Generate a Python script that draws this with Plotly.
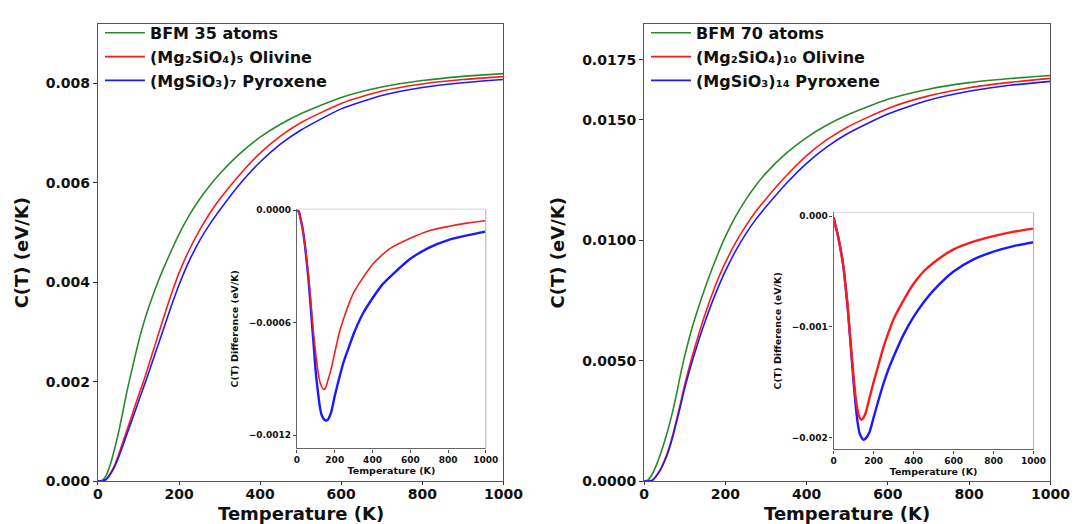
import plotly.graph_objects as go

# ---------------- data ----------------
T = [0, 10, 20, 30, 40, 50, 60, 70, 80, 90, 100, 110, 120, 130, 140, 150, 160,
     180, 200, 225, 250, 275, 300, 350, 400, 450, 500, 600, 700, 800, 900, 1000]

# Left panel: 35 atoms
bfm35 = [0, 0.00001, 0.00011, 0.00032, 0.00062, 0.00095, 0.00134, 0.00175, 0.00211,
         0.00246, 0.00280, 0.00310, 0.00337, 0.00361, 0.00384, 0.00405, 0.00425,
         0.00462, 0.00497, 0.005345, 0.005665, 0.00594, 0.00618, 0.00659, 0.00692,
         0.00718, 0.00739, 0.00772, 0.00793, 0.00806, 0.008145, 0.00820]
olivine5 = [0, 0, 0.00004, 0.00015, 0.00030, 0.00051, 0.00075, 0.00099, 0.00123,
            0.00148, 0.00172, 0.00195, 0.00220, 0.00246, 0.00272, 0.00298, 0.00324,
            0.00374, 0.00419, 0.00465, 0.00504, 0.00538, 0.00567, 0.00617, 0.00660,
            0.00694, 0.00721, 0.00760, 0.00785, 0.007992, 0.00808, 0.008139]
pyroxene7 = [0, 0, 0.00003, 0.00013, 0.00027, 0.00046, 0.00068, 0.00091, 0.00114,
             0.00137, 0.00160, 0.00183, 0.00206, 0.00230, 0.00254, 0.00278, 0.00302,
             0.00350, 0.00395, 0.00443, 0.00483, 0.00516, 0.00545, 0.00598, 0.00642,
             0.00678, 0.00706, 0.00749, 0.00776, 0.00792, 0.008015, 0.00808]
diff_ol5 = [0, -0.00001, -0.00005, -0.00010, -0.00017, -0.00025, -0.00034, -0.00045,
            -0.00057, -0.00068, -0.00077, -0.00085, -0.00091, -0.00094, -0.000955,
            -0.00095, -0.00092, -0.00085, -0.00076, -0.00065, -0.00057, -0.00050,
            -0.00044, -0.00036, -0.00029, -0.00024, -0.00020, -0.00015, -0.00011,
            -0.000088, -0.00007, -0.000056]
diff_py7 = [0, -0.00001, -0.00005, -0.00010, -0.00017, -0.00026, -0.00036, -0.00048,
            -0.00061, -0.00074, -0.00087, -0.00096, -0.00104, -0.00109, -0.00111,
            -0.00112, -0.00112, -0.00108, -0.00099, -0.00089, -0.00080, -0.00073,
            -0.00066, -0.00055, -0.00047, -0.00040, -0.00035, -0.00026, -0.00020,
            -0.00016, -0.000135, -0.000115]

# Right panel: 70 atoms
bfm70 = [0, 0.00005, 0.00028, 0.00065, 0.00110, 0.00162, 0.00220, 0.00286, 0.00362,
         0.00445, 0.00520, 0.00586, 0.00647, 0.00701, 0.00753, 0.00802, 0.00849,
         0.00936, 0.01015, 0.01098, 0.01168, 0.01228, 0.01279, 0.01362, 0.01427,
         0.01479, 0.01521, 0.01586, 0.01628, 0.01655, 0.01672, 0.01685]
olivine10 = [0, 0, 0.00003, 0.00022, 0.00048, 0.00085, 0.00130, 0.00188, 0.00255,
             0.00326, 0.00400, 0.00466, 0.00527, 0.00584, 0.00640, 0.00692, 0.00741,
             0.00831, 0.00907, 0.00989, 0.01059, 0.01120, 0.01172, 0.01268, 0.01352,
             0.01418, 0.01470, 0.01548, 0.01600, 0.01634, 0.01656, 0.016728]
pyroxene14 = [0, 0, 0.00002, 0.00020, 0.00045, 0.00080, 0.00124, 0.00180, 0.00245,
              0.00314, 0.00385, 0.00448, 0.00506, 0.00560, 0.00613, 0.00662, 0.00709,
              0.00795, 0.00872, 0.00955, 0.01026, 0.01087, 0.01139, 0.01236, 0.01320,
              0.01388, 0.01443, 0.01525, 0.01582, 0.01619, 0.01644, 0.016605]
diff_ol10 = [-0.00001, -0.00009, -0.00016, -0.00025, -0.00035, -0.00046, -0.00063,
             -0.00080, -0.00102, -0.00124, -0.00145, -0.00163, -0.00175, -0.00182,
             -0.00184, -0.00182, -0.00178, -0.00164, -0.00150, -0.00134, -0.00118,
             -0.00105, -0.00093, -0.00076, -0.00061, -0.00050, -0.00042, -0.00030,
             -0.00023, -0.00018, -0.00014, -0.000112]
diff_py14 = [-0.00001, -0.00009, -0.00016, -0.00025, -0.00035, -0.00047, -0.00064,
             -0.00082, -0.00104, -0.00127, -0.00150, -0.00170, -0.00186, -0.00196,
             -0.00200, -0.00202, -0.00201, -0.00195, -0.00182, -0.00166, -0.00151,
             -0.00138, -0.00127, -0.00107, -0.00091, -0.00078, -0.00067, -0.00050,
             -0.00039, -0.00032, -0.00027, -0.000235]

names_left = ["BFM 35 atoms", "(Mg₂SiO₄)₅ Olivine", "(MgSiO₃)₇ Pyroxene"]
names_right = ["BFM 70 atoms", "(Mg₂SiO₄)₁₀ Olivine", "(MgSiO₃)₁₄ Pyroxene"]
temp_ticks = [0, 200, 400, 600, 800, 1000]
left_yticks = [0, 0.002, 0.004, 0.006, 0.008]
right_yticks = [0, 0.005, 0.010, 0.015, 0.0175]
inset_left_ticks = [0, -0.0006, -0.0012]
inset_left_text = ["0.0000", "−0.0006", "−0.0012"]
inset_right_ticks = [0, -0.001, -0.002]
inset_right_text = ["0.000", "−0.001", "−0.002"]

# ---------------- styling ----------------
GREEN = "#2a8a2a"
RED = "#ff1a1a"
BLUE = "#1a1aff"
FONT = "DejaVu Sans"
W, H = 1081, 524


def px_x(p):
    return p / W


def px_y(p):
    return 1 - p / H


fig = go.Figure()

for y, name, col in zip([bfm35, olivine5, pyroxene7], names_left, [GREEN, RED, BLUE]):
    fig.add_trace(go.Scatter(x=T, y=y, mode="lines", name="<b>" + name + "</b>",
                             line=dict(color=col, width=1.6, shape="spline", smoothing=0.6),
                             xaxis="x", yaxis="y", legend="legend"))
for y, name, col in zip([bfm70, olivine10, pyroxene14], names_right, [GREEN, RED, BLUE]):
    fig.add_trace(go.Scatter(x=T, y=y, mode="lines", name="<b>" + name + "</b>",
                             line=dict(color=col, width=1.6, shape="spline", smoothing=0.6),
                             xaxis="x2", yaxis="y2", legend="legend2"))
fig.add_trace(go.Scatter(x=T, y=diff_py7, mode="lines", showlegend=False,
                         line=dict(color=BLUE, width=2.4, shape="spline", smoothing=0.6),
                         xaxis="x3", yaxis="y3"))
fig.add_trace(go.Scatter(x=T, y=diff_ol5, mode="lines", showlegend=False,
                         line=dict(color=RED, width=1.6, shape="spline", smoothing=0.6),
                         xaxis="x3", yaxis="y3"))
fig.add_trace(go.Scatter(x=T, y=diff_py14, mode="lines", showlegend=False,
                         line=dict(color=BLUE, width=2.4, shape="spline", smoothing=0.6),
                         xaxis="x4", yaxis="y4"))
fig.add_trace(go.Scatter(x=T, y=diff_ol10, mode="lines", showlegend=False,
                         line=dict(color=RED, width=2.4, shape="spline", smoothing=0.6),
                         xaxis="x4", yaxis="y4"))

main_tick_font = dict(family=FONT, size=14, color="#111", weight="bold")
main_title_font = dict(family=FONT, size=18, color="#111", weight="bold")
inset_tick_font = dict(family=FONT, size=9, color="#111", weight="bold")
inset_title_font = dict(family=FONT, size=9.5, color="#111", weight="bold")


def main_x(domain, anchor):
    return dict(domain=domain, anchor=anchor, range=[0, 1000], tickvals=temp_ticks,
                ticks="outside", ticklen=3, tickcolor="#333", showgrid=False, zeroline=False,
                showline=True, linecolor="#555", linewidth=1.2, mirror=True,
                tickfont=main_tick_font, ticklabelstandoff=-3)


def main_y(domain, anchor, rng, tv, fmt):
    return dict(domain=domain, anchor=anchor, range=rng, tickvals=tv, tickformat=fmt,
                ticks="outside", ticklen=4, tickcolor="#333", showgrid=False, zeroline=False,
                showline=True, linecolor="#555", linewidth=1.2, mirror=True,
                tickfont=main_tick_font,
                title=dict(text="C(T) (eV/K)", font=main_title_font, standoff=12))


def inset_x(domain, anchor):
    return dict(domain=domain, anchor=anchor, range=[0, 1000], tickvals=temp_ticks,
                ticks="outside", ticklen=3, tickcolor="#444", showgrid=False, zeroline=False,
                showline=True, linecolor="#666", linewidth=1.2,
                tickfont=inset_tick_font,
                title=dict(text="Temperature (K)", font=inset_title_font, standoff=1))


def inset_y(domain, anchor, rng, tv, tt):
    return dict(domain=domain, anchor=anchor, range=rng, tickvals=tv, ticktext=tt,
                ticks="outside", ticklen=3, tickcolor="#444", showgrid=False, zeroline=False,
                showline=True, linecolor="#666", linewidth=1.2,
                tickfont=inset_tick_font,
                title=dict(text="C(T) Difference (eV/K)", font=inset_title_font, standoff=8))


main_ydom = [px_y(480), px_y(12.7)]
legend_font = dict(family=FONT, size=16, color="#111")
fig.update_layout(
    width=W, height=H, autosize=False,
    margin=dict(l=0, r=0, t=0, b=0),
    paper_bgcolor="white", plot_bgcolor="white",
    font=dict(family=FONT, color="#111"),
    xaxis=main_x([px_x(87), px_x(502)], "y"),
    yaxis=main_y(main_ydom, "x", [0, 0.00919], left_yticks, ".3f"),
    xaxis2=main_x([px_x(646), px_x(1062)], "y2"),
    yaxis2=main_y(main_ydom, "x2", [0, 0.01897], right_yticks, ".4f"),
    xaxis3=inset_x([px_x(290.7), px_x(484)], "y3"),
    yaxis3=inset_y([px_y(446.7), px_y(201.7)], "x3", [-0.00127, 0.000005],
                   inset_left_ticks, inset_left_text),
    xaxis4=inset_x([px_x(840), px_x(1044.7)], "y4"),
    yaxis4=inset_y([px_y(447.7), px_y(205)], "x4", [-0.002107, 0.000035],
                   inset_right_ticks, inset_right_text),
    legend=dict(x=px_x(89), y=px_y(4), xanchor="left", yanchor="top",
                bgcolor="rgba(255,255,255,0)", font=legend_font,
                tracegroupgap=0, itemwidth=40),
    legend2=dict(x=px_x(648), y=px_y(4), xanchor="left", yanchor="top",
                 bgcolor="rgba(255,255,255,0)", font=legend_font,
                 tracegroupgap=0, itemwidth=40),
)

# main x-axis titles placed precisely below the tick labels
for cx in [px_x((87 + 502) / 2), px_x((646 + 1062) / 2)]:
    fig.add_annotation(text="Temperature (K)", x=cx, y=px_y(513), xref="paper", yref="paper",
                       xanchor="center", yanchor="middle", showarrow=False,
                       font=main_title_font)

# light frames for the top/right sides of the insets
for xr, yr in [("x3 domain", "y3 domain"), ("x4 domain", "y4 domain")]:
    fig.add_shape(type="line", xref=xr, yref=yr, x0=0, x1=1, y0=1, y1=1,
                  line=dict(color="#dddddd", width=1.2))
    fig.add_shape(type="line", xref=xr, yref=yr, x0=1, x1=1, y0=0, y1=1,
                  line=dict(color="#bbbbbb", width=1.2))

fig.write_html("out.html")
